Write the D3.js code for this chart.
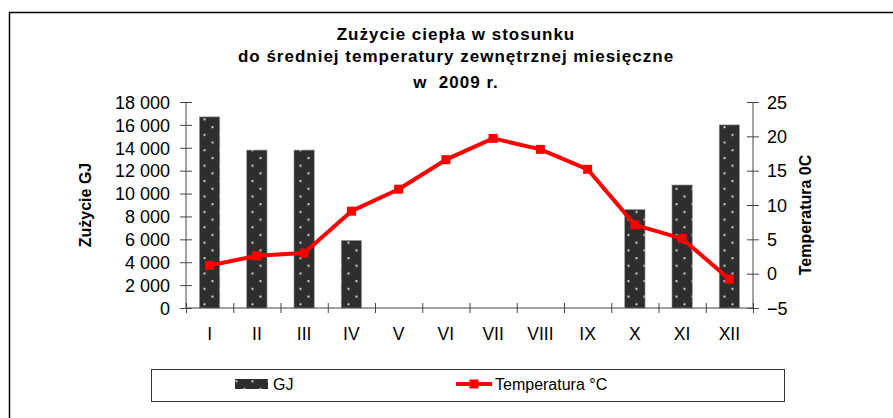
<!DOCTYPE html>
<html>
<head>
<meta charset="utf-8">
<script src="https://cdn.jsdelivr.net/npm/d3@7"></script>
<style>
  body { margin: 0; background: #fff; }
  text { font-family: "Liberation Sans", Arial, sans-serif; fill: #000; }
</style>
</head>
<body>
<svg id="chart" width="893" height="418"></svg>
<script>
// Data
const months = ["I", "II", "III", "IV", "V", "VI", "VII", "VIII", "IX", "X", "XI", "XII"];
const heatGJ = [16700, 13800, 13800, 5900, null, null, null, null, null, 8600, 10750, 16000];
const tempC = [1.2, 2.6, 3.0, 9.1, 12.3, 16.6, 19.7, 18.1, 15.2, 7.1, 5.1, -0.8];
const gjTicks = [0, 2000, 4000, 6000, 8000, 10000, 12000, 14000, 16000, 18000];
const tempTicks = [-5, 0, 5, 10, 15, 20, 25];
const titleLines = ["Zużycie ciepła w stosunku", "do średniej temperatury zewnętrznej miesięczne", "w  2009 r."];

const svg = d3.select("#chart");

const plot = { left: 186, right: 753, top: 102, bottom: 308 };

// outer frame (right and bottom edges run off the picture)
svg.append("rect")
    .attr("x", 9.5).attr("y", 12.5)
    .attr("width", 900).attr("height", 420)
    .attr("fill", "#fff")
    .attr("stroke", "#000")
    .attr("stroke-width", 1.5);

// dotted bar pattern
const defs = svg.append("defs");
const pat = defs.append("pattern")
    .attr("id", "dots")
    .attr("patternUnits", "userSpaceOnUse")
    .attr("width", 16).attr("height", 15.4);
pat.append("rect").attr("width", 16).attr("height", 15.4).attr("fill", "#2e2e2e");
pat.append("rect").attr("x", 3.5).attr("y", 3).attr("width", 2).attr("height", 2).attr("fill", "#d0d0d0");
pat.append("rect").attr("x", 11.5).attr("y", 10.7).attr("width", 2).attr("height", 2).attr("fill", "#d0d0d0");

// Title (slightly spaced bold lines)
const titleY = [40, 62, 88];
svg.append("g").selectAll("text")
    .data(titleLines)
    .join("text")
    .attr("x", 456)
    .attr("y", (d, i) => titleY[i])
    .attr("text-anchor", "middle")
    .style("font-size", "17px")
    .style("font-weight", "bold")
    .style("letter-spacing", "1px")
    .style("white-space", "pre")
    .text(d => d);

// Scales
const x = d3.scaleBand()
    .domain(months)
    .range([plot.left, plot.right])
    .padding(0);

const xLin = d3.scaleLinear().domain([0, 12]).range([plot.left, plot.right]);

const yGJ = d3.scaleLinear()
    .domain([0, 18000])
    .range([plot.bottom, plot.top]);

const yT = d3.scaleLinear()
    .domain([-5, 25])
    .range([plot.bottom, plot.top]);

const fmtGJ = v => d3.format(",")(v).replace(/,/g, " ");

// Bars
const barW = x.bandwidth() * 0.43;
svg.append("g").selectAll("rect")
    .data(months.map((m, i) => ({ m, v: heatGJ[i] })).filter(d => d.v != null))
    .join("rect")
    .attr("x", d => x(d.m) + x.bandwidth() / 2 - barW / 2)
    .attr("y", d => yGJ(d.v))
    .attr("width", barW)
    .attr("height", d => yGJ(0) - yGJ(d.v))
    .attr("fill", "url(#dots)")
    .attr("stroke", "#9a9a9a")
    .attr("stroke-width", 0.6);

// Left axis
const gL = svg.append("g")
    .attr("transform", `translate(${plot.left},0)`)
    .call(d3.axisLeft(yGJ).tickValues(gjTicks).tickFormat(fmtGJ).tickSize(6).tickPadding(10));
gL.selectAll(".tick line").attr("x2", -6).attr("x1", 6).attr("stroke", "#444");
gL.select(".domain").attr("stroke", "#444").attr("d", `M0,${plot.top}V${plot.bottom}`);
gL.selectAll("text").style("font-size", "18px").attr("dy", "0.35em");

// Right axis
const gR = svg.append("g")
    .attr("transform", `translate(${plot.right},0)`)
    .call(d3.axisRight(yT).tickValues(tempTicks).tickSize(6).tickPadding(8));
gR.selectAll(".tick line").attr("x1", -6).attr("x2", 6).attr("stroke", "#444");
gR.select(".domain").attr("stroke", "#444").attr("d", `M0,${plot.top}V${plot.bottom}`);
gR.selectAll("text").style("font-size", "18px").attr("dy", "0.35em");

// Bottom axis: ticks at category boundaries, labels at centres
const gB = svg.append("g")
    .attr("transform", `translate(0,${plot.bottom})`)
    .call(d3.axisBottom(xLin).tickValues(d3.range(0, 13)).tickSize(5).tickFormat(""));
gB.selectAll(".tick line").attr("y1", -5).attr("y2", 5).attr("stroke", "#444");
gB.select(".domain").attr("stroke", "#444").attr("d", `M${plot.left},0H${plot.right}`);

svg.append("g")
    .attr("transform", `translate(0,${plot.bottom})`)
    .call(d3.axisBottom(x).tickSize(0).tickPadding(20))
    .call(g => g.select(".domain").remove())
    .selectAll("text")
    .style("font-size", "17.5px");

// Temperature line
const line = d3.line()
    .x((d, i) => x(months[i]) + x.bandwidth() / 2)
    .y(d => yT(d));

svg.append("path")
    .datum(tempC)
    .attr("d", line)
    .attr("fill", "none")
    .attr("stroke", "#ff0000")
    .attr("stroke-width", 4)
    .attr("stroke-linejoin", "round");

svg.append("g").selectAll("rect")
    .data(tempC)
    .join("rect")
    .attr("x", (d, i) => x(months[i]) + x.bandwidth() / 2 - 4.5)
    .attr("y", d => yT(d) - 4.5)
    .attr("width", 9).attr("height", 9)
    .attr("fill", "#ff0000");

// Axis titles
svg.append("text")
    .attr("transform", "translate(91,205) rotate(-90)")
    .attr("text-anchor", "middle")
    .style("font-size", "16px")
    .style("font-weight", "bold")
    .text("Zużycie GJ");

svg.append("text")
    .attr("transform", "translate(811,215) rotate(-90)")
    .attr("text-anchor", "middle")
    .style("font-size", "16px")
    .style("font-weight", "bold")
    .text("Temperatura 0C");

// Legend
const leg = svg.append("g");
leg.append("rect")
    .attr("x", 151.5).attr("y", 369.5)
    .attr("width", 633).attr("height", 32)
    .attr("fill", "#fff").attr("stroke", "#333").attr("stroke-width", 1);
leg.append("rect")
    .attr("x", 235).attr("y", 379).attr("width", 33).attr("height", 10)
    .attr("fill", "url(#dots)");
leg.append("text")
    .attr("x", 273).attr("y", 390)
    .style("font-size", "16px")
    .text("GJ");
leg.append("line")
    .attr("x1", 456).attr("x2", 492).attr("y1", 384).attr("y2", 384)
    .attr("stroke", "#ff0000").attr("stroke-width", 4);
leg.append("rect")
    .attr("x", 469.5).attr("y", 379.5).attr("width", 9).attr("height", 9)
    .attr("fill", "#ff0000");
leg.append("text")
    .attr("x", 495).attr("y", 390)
    .style("font-size", "16px")
    .text("Temperatura °C");
</script>
</body>
</html>
